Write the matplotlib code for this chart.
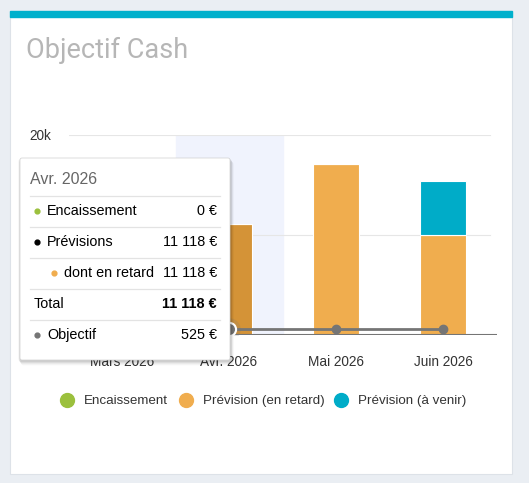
import matplotlib
matplotlib.use("Agg")
import matplotlib.pyplot as plt
from matplotlib.patches import Rectangle, FancyBboxPatch
import numpy as np

# ---------------- data ----------------
mois = ["Mars 2026", "Avr. 2026", "Mai 2026", "Juin 2026"]
encaissement = [0, 0, 0, 0]
prevision_retard = [0, 11118, 17100, 9975]
prevision_venir = [0, 0, 0, 5400]
objectif = [525, 525, 525, 525]
yticks = [0, 10000, 20000]
# 0 et 10k sont cachés par le tooltip dans l'image
ytick_labels = ["", "", "20k"]
survol = 1  # mois survolé (tooltip)

tooltip_titre = "Avr. 2026"
tooltip_lignes = [
    ("Encaissement", "0 €", "#9bc03d", False, False),
    ("Prévisions", "11 118 €", "#000000", False, False),
    ("dont en retard", "11 118 €", "#f0ad4e", True, False),
    ("Total", "11 118 €", None, False, True),
    ("Objectif", "525 €", "#757575", False, False),
]

legend_labels = ["Encaissement", "Prévision (en retard)", "Prévision (à venir)"]
c_green = "#9bc03d"
c_orange = "#f0ad4e"
c_orange_hover = "#d49337"
c_cyan = "#00acc8"

W, H = 529, 483
plt.rcParams['font.family'] = ['Liberation Sans', 'DejaVu Sans']
fig = plt.figure(figsize=(W / 100, H / 100), dpi=100)

def px_axes(z):
    ax = fig.add_axes([0, 0, 1, 1], zorder=z)
    ax.set_xlim(0, W)
    ax.set_ylim(H, 0)
    ax.axis("off")
    ax.patch.set_alpha(0)
    return ax

# ---------- card background ----------
bg = px_axes(0)
bg.add_patch(Rectangle((0, 0), W, H, color="#eaeef3"))
bg.add_patch(Rectangle((10, 11), 502, 463, facecolor="white", edgecolor="#dde2e8", lw=0.8))
bg.add_patch(Rectangle((10, 11), 502, 6, color="#00b0cc"))
bg.text(26, 50, "Objectif Cash", fontsize=19.5, color="#b6b6b6", family=["Roboto", "DejaVu Sans"],
        fontweight="normal", va="center", ha="left")

# ---------- chart ----------
x0, x1 = 68.5, 496.5
ytop, ybot = 135, 334.5
ax = fig.add_axes([x0 / W, 1 - ybot / H, (x1 - x0) / W, (ybot - ytop) / H], zorder=1)
ax.patch.set_alpha(0)
x = np.arange(len(mois))
ax.set_xlim(-0.5, len(mois) - 0.5)
ax.set_ylim(0, 20000)

ax.axvspan(survol - 0.5, survol + 0.5, color="#f0f3fd", zorder=0)
for t in yticks[1:]:
    ax.axhline(t, color="#e6e6e6", lw=0.8, xmax=0.985, zorder=0.5)

bw = 46 / 107
cols = [c_orange_hover if i == survol else c_orange for i in range(len(mois))]
ax.bar(x, encaissement, bw, color=c_green, edgecolor="white", lw=0.8, zorder=2)
ax.bar(x, prevision_retard, bw, bottom=encaissement, color=cols, edgecolor="white", lw=0.8, zorder=2)
bottom2 = np.array(encaissement) + np.array(prevision_retard)
ax.bar(x, prevision_venir, bw, bottom=bottom2, color=c_cyan, edgecolor="white", lw=0.8, zorder=2)

ax.plot(x, objectif, color="#757575", lw=2, zorder=3)
ax.scatter(np.delete(x, survol), np.delete(objectif, survol), s=36, color="#757575", zorder=4)
ax.scatter([x[survol]], [objectif[survol]], s=260, color="#757575", alpha=0.2, lw=0, zorder=4)
ax.scatter([x[survol]], [objectif[survol]], s=90, facecolor="#757575", edgecolor="white", lw=1.5, zorder=5)

ax.axhline(0, color="#757575", lw=1.5, zorder=3)
for s in ax.spines.values():
    s.set_visible(False)
ax.set_xticks(x, mois)
ax.set_yticks(yticks, ytick_labels)
ax.tick_params(length=0, labelsize=9.8, colors="#333333")
ax.tick_params(axis="x", pad=15)
ax.tick_params(axis="y", pad=20.5)
for lbl in ax.get_yticklabels():
    lbl.set_horizontalalignment("center")

# legend
leg_y = 400
leg_x = [67, 186, 341]
leg_c = [c_green, c_orange, c_cyan]
for lx, lc, lt in zip(leg_x, leg_c, legend_labels):
    bg.scatter([lx], [leg_y], s=100, color=lc, zorder=3)
    bg.text(lx + 17, leg_y + 1, lt, fontsize=9.6, color="#333333", va="center", ha="left")

# ---------- tooltip ----------
tt = px_axes(3)
tx0, ty0, tw, th = 20, 158, 210, 202
for i, a in enumerate([0.06, 0.05, 0.04, 0.03, 0.02]):
    tt.add_patch(FancyBboxPatch((tx0 - 1.5 + i * 0.6, ty0 + 0.5 + i * 0.9), tw + 3, th + 1.5,
                                boxstyle="round,pad=0,rounding_size=3", color="black", alpha=a, lw=0))
tt.add_patch(FancyBboxPatch((tx0, ty0), tw, th, boxstyle="round,pad=0,rounding_size=2",
                            facecolor="white", edgecolor="#d0d0d0", lw=0.5))
tt.text(30, 179, tooltip_titre, fontsize=11.5, color="#666666", va="center", ha="left")
ry = 211
for nom, val, col, indent, bold in tooltip_lignes:
    tt.plot([30, 220], [ry - 15, ry - 15], color="#e3e3e3", lw=0.9)
    lx = 54 if indent else 37
    if col is not None:
        tt.scatter([lx], [ry], s=12, color=col, zorder=5)
        tt.text(lx + 10, ry, nom, fontsize=10.4, color="black", va="center", ha="left")
    else:
        tt.text(34, ry, nom, fontsize=10.4, color="black", va="center", ha="left")
    tt.text(217, ry, val, fontsize=10.4, color="black", va="center", ha="right",
            fontweight="bold" if bold else "normal")
    ry += 31

fig.savefig("out.png", dpi=100)
